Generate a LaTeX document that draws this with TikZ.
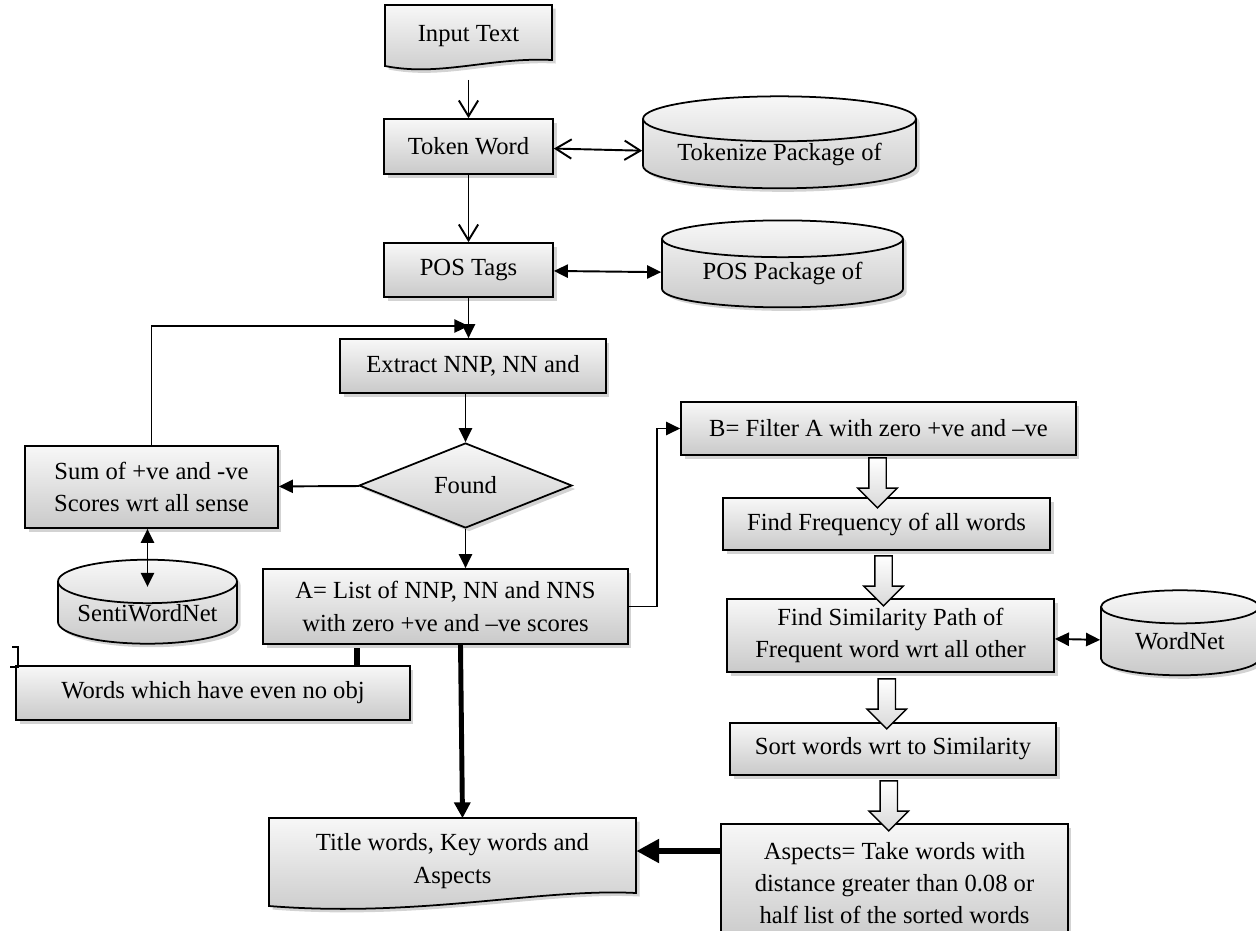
\documentclass[tikz,border=0pt]{standalone}
\usepackage{fontspec}
\setmainfont{Liberation Serif}
\usetikzlibrary{arrows.meta, shapes.geometric, shapes.arrows, shadows, calc, backgrounds}

\begin{document}
\begin{tikzpicture}[
  x=0.02cm, y=-0.02cm,
  base/.style={draw=black, line width=1pt, top color=gray!6, bottom color=gray!42,
               drop shadow={shadow xshift=2pt, shadow yshift=-2pt, opacity=0.35},
               align=center, inner sep=0pt, font=\fontsize{14}{18.4}\selectfont},
  box/.style={base, rectangle},
  doc/.style={draw=none, align=center, inner sep=0pt, font=\fontsize{14}{18.4}\selectfont},
  docfill/.style={draw=black, line width=1pt, top color=gray!6, bottom color=gray!42,
                  drop shadow={shadow xshift=2pt, shadow yshift=-2pt, opacity=0.35}},
  db/.style={base, cylinder, shape border rotate=90},
  dec/.style={base, diamond, aspect=2.5},
  blk/.style={single arrow, shape border rotate=270, draw=black, line width=0.8pt,
              top color=white, bottom color=gray!30, inner sep=0.16cm,
              single arrow head extend=0.22cm, single arrow tip angle=90,
              minimum height=1cm},
  oarr/.style={-{Straight Barb[length=9pt, width=11pt]}, line width=1.1pt},
  odarr/.style={{Straight Barb[length=9pt, width=11pt]}-{Straight Barb[length=9pt, width=11pt]}, line width=1.1pt},
  farr/.style={-{Triangle[length=8pt, width=7.5pt]}, line width=1.1pt},
  fdarr/.style={{Triangle[length=8pt, width=7.5pt]}-{Triangle[length=8pt, width=7.5pt]}, line width=1.1pt},
  barr/.style={-{Triangle[length=9pt, width=9pt]}, line width=2.8pt},
  bbarr/.style={-{Triangle[length=13pt, width=13pt]}, line width=3.8pt},
  stub/.style={line width=3.8pt}
]
  \useasboundingbox (0,0) rectangle (1256,930);
  \clip (0,0) rectangle (1256,930);

  % left column
  \node[doc, minimum width=3.34cm, minimum height=1.1cm] (inp) at (468.5,36) {Input Text};
  \node[box, minimum width=3.38cm, minimum height=1.1cm] (tok) at (468.5,146.5) {Token Word};
  \node[db, aspect=0.22, minimum width=5.46cm, minimum height=1.84cm] (tokpkg) at (779.5,154) {Tokenize Package of};
  \node[box, minimum width=3.38cm, minimum height=1.08cm] (pos) at (468.5,270) {POS Tags};
  \node[db, aspect=0.23, minimum width=4.82cm, minimum height=1.74cm] (pospkg) at (782.5,273.5) {POS Package of};
  \node[box, minimum width=5.32cm, minimum height=1.08cm] (ext) at (473,366) {Extract NNP, NN and};
  \node[dec, minimum width=4.26cm, minimum height=1.7cm] (found) at (465.5,485.5) {Found};
  \node[box, minimum width=5.06cm, minimum height=1.64cm] (sum) at (151.5,487) {Sum of +ve and -ve\\Scores wrt all sense};
  \node[db, aspect=0.31, minimum width=3.58cm, minimum height=1.68cm] (senti) at (147.5,613) {SentiWordNet};
  \node[box, minimum width=7.3cm, minimum height=1.5cm] (lst) at (445.5,606.5) {A= List of NNP, NN and NNS\\with zero +ve and –ve scores};
  \node[box, minimum width=7.88cm, minimum height=1.08cm] (wrd) at (213,693) {Words which have even no obj};
  \node[doc, minimum width=7.34cm, minimum height=1.5cm] (title) at (452.5,861) {Title words, Key words and\\Aspects};

  % right column
  \node[box, minimum width=7.9cm, minimum height=1.06cm] (filt) at (878.5,428.5) {B= Filter A with zero +ve and –ve};
  \node[box, minimum width=6.54cm, minimum height=1.04cm] (freq) at (886.5,524) {Find Frequency of all words};
  \node[box, minimum width=6.54cm, minimum height=1.46cm] (sim) at (890.5,635.5) {Find Similarity Path of\\Frequent word wrt all other};
  \node[db, aspect=0.37, minimum width=3.16cm, minimum height=1.7cm] (wnet) at (1180,641.5) {WordNet};
  \node[box, minimum width=6.52cm, minimum height=1.04cm] (sort) at (893,749) {Sort words wrt to Similarity};
  \node[box, minimum width=6.94cm, minimum height=2.36cm] (asp) at (894.5,883) {Aspects= Take words with\\distance greater than 0.08 or\\half list of the sorted words};

  \begin{scope}[on background layer]
    \path[docfill] (385,5) -- (552,5) -- (552,60) .. controls (490,57) and (440,77) .. (385,66) -- cycle;
    \path[docfill] (269,818) -- (636,818) -- (636,893) .. controls (540,888) and (420,918) .. (269,906) -- cycle;
  \end{scope}

  % block arrows
  \node[blk] (a1) at ($(filt.south)!.5!(freq.north)+(-5,2)$) {};
  \node[blk] (a2) at ($(freq.south)!.5!(sim.north)+(-5,2)$) {};
  \node[blk] (a3) at ($(sim.south)!.5!(sort.north)+(-5,2)$) {};
  \node[blk] (a4) at ($(sort.south)!.5!(asp.north)+(-5,2)$) {};

  % connectors
  \coordinate (join) at (468.5,326);
  \coordinate (cut) at (357,648);
  \draw[oarr, shorten <=0.32cm] (inp.south) -- (tok.north);
  \draw[odarr] (tok) -- (tokpkg);
  \draw[oarr] (tok) -- (pos);
  \draw[fdarr] (pos) -- (pospkg);
  \draw[farr] (pos.south) -- (pos.south |- ext.north);
  \draw[farr] (sum.north) |- (join);
  \draw[farr] (found.north |- ext.south) -- (found.north);
  \draw[farr] (found) -- (sum);
  \draw[fdarr] (sum.south -| senti.north) -- ($(senti.north)+(0,28)$);
  \draw[farr] (found.south) -- (found.south |- lst.north);
  \draw[farr] (lst.east) -- ++(28,0) |- (filt.west);
  \draw[fdarr] (sim) -- (wnet);
  \draw[barr] ($(lst.south)+(15,0)$) -- ($(title.north)+(10,-5)$);
  \draw[bbarr] (asp.west |- 0,851) -- (title.east |- 0,851);
  \draw[stub] (cut) -- (cut |- wrd.north);
  \draw[line width=0.8pt] (12,647) -- (18,647) -- (18,667) -- (10,667);
\end{tikzpicture}
\end{document}
